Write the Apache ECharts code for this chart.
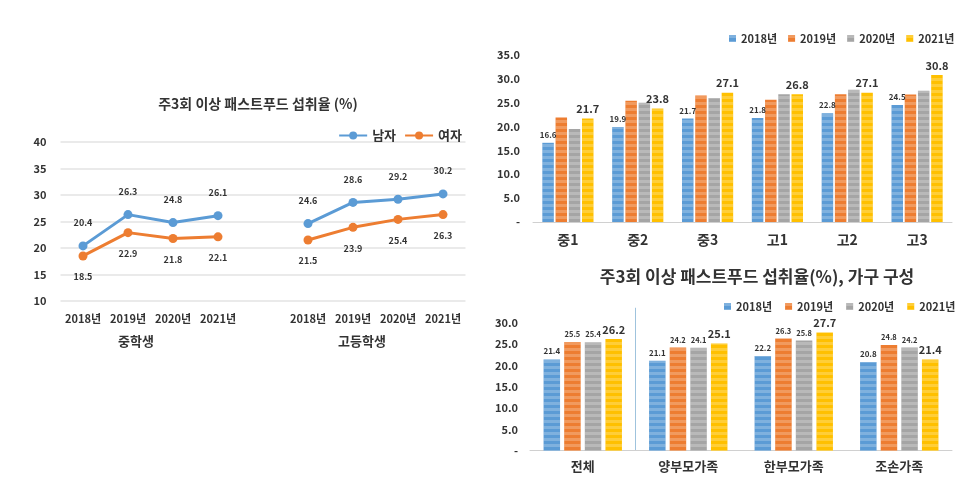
<!DOCTYPE html>
<html><head><meta charset="utf-8">
<script src="https://cdn.jsdelivr.net/npm/echarts@6/dist/echarts.min.js"></script>
<style>html,body{margin:0;padding:0;background:#fff}#c{width:972px;height:485px}</style>
</head><body><div id="c"></div>
<script>
// ---- Chart 1: line chart (middle / high school, by sex)
const lineCats = ['2018년','2019년','2020년','2021년','','2018년','2019년','2020년','2021년'];
const male   = [20.4, 26.3, 24.8, 26.1, null, 24.6, 28.6, 29.2, 30.2];
const female = [18.5, 22.9, 21.8, 22.1, null, 21.5, 23.9, 25.4, 26.3];
const groupLabels = ['중학생', '고등학생'];
// ---- Chart 2: by grade
const gradeCats = ['중1','중2','중3','고1','고2','고3'];
const g2018 = [16.6, 19.9, 21.7, 21.8, 22.8, 24.5];
const g2019 = [21.9, 25.4, 26.5, 25.6, 26.8, 26.7];
const g2020 = [19.5, 25.0, 26.0, 26.8, 27.7, 27.5];
const g2021 = [21.7, 23.8, 27.1, 26.8, 27.1, 30.8];
// ---- Chart 3: by household type
const houseCats = ['전체','양부모가족','한부모가족','조손가족'];
const h2018 = [21.4, 21.1, 22.2, 20.8];
const h2019 = [25.5, 24.2, 26.3, 24.8];
const h2020 = [25.4, 24.1, 25.8, 24.2];
const h2021 = [26.2, 25.1, 27.7, 21.4];
const years = ['2018년','2019년','2020년','2021년'];

const FONT = "'Noto Sans CJK KR', 'Noto Sans', sans-serif";
const TXT = '#333';
const colors = ['#5B9BD5','#ED7D31','#A5A5A5','#FFC000'];
const decal = {symbol:'rect', symbolSize:1, dashArrayX:[[1,0]], dashArrayY:[3,3], color:'rgba(255,255,255,0.22)'};

function barSeries(name, data, color, xi, yi, labelSize, labelBold, showLabel, barWidth, barGap) {
  return {
    type:'bar', name, data, xAxisIndex:xi, yAxisIndex:yi,
    barWidth, barGap,
    itemStyle:{color, decal},
    label:{show:showLabel, position:'top', distance:4, fontFamily:FONT, fontSize:labelSize,
      fontWeight: labelBold ? 'bold' : 'normal', color:TXT, formatter:p=>p.value.toFixed(1)}
  };
}

const chart = echarts.init(document.getElementById('c'), null, {renderer:'canvas'});
const yFmt = v => v === 0 ? '-' : v.toFixed(1);

chart.setOption({
  animation:false,
  textStyle:{fontFamily:FONT},
  title:[
    {text:'주3회 이상 패스트푸드 섭취율 (%)', left:253, top:92, textAlign:'center',
     textStyle:{fontFamily:FONT, fontSize:14, fontWeight:'bold', color:TXT}},
    {text:'주3회 이상 패스트푸드 섭취율(%), 가구 구성', left:752, top:263, textAlign:'center',
     textStyle:{fontFamily:FONT, fontSize:17, fontWeight:'bold', color:TXT}}
  ],
  legend:[
    {data:['남자','여자'], right:505, top:124, itemWidth:28, itemHeight:10, itemGap:8,
     textStyle:{fontFamily:FONT, fontSize:13, fontWeight:'bold', color:TXT}},
    {data:years, left:724, top:28, itemWidth:7, itemHeight:7, itemGap:11, icon:'rect',
     textStyle:{fontFamily:FONT, fontSize:11, fontWeight:'bold', color:TXT}},
    {data:years, left:719, top:296, itemWidth:7, itemHeight:7, itemGap:13, icon:'rect',
     textStyle:{fontFamily:FONT, fontSize:11, fontWeight:'bold', color:TXT}}
  ],
  grid:[
    {left:60.5, right:506.5, top:142, bottom:184},
    {left:533, right:20, top:55, bottom:263},
    {left:530, right:20, top:322.7, bottom:34.3}
  ],
  xAxis:[
    {type:'category', gridIndex:0, data:lineCats, axisLine:{show:false}, axisTick:{show:false},
     axisLabel:{interval:0, fontFamily:FONT, fontSize:11, fontWeight:'bold', color:TXT, margin:12}},
    {type:'category', gridIndex:1, data:gradeCats, axisLine:{lineStyle:{color:'#d0d0d0'}}, axisTick:{show:false},
     axisLabel:{interval:0, fontFamily:FONT, fontSize:14, fontWeight:'bold', color:TXT, margin:11}},
    {type:'category', gridIndex:2, data:houseCats, axisLine:{lineStyle:{color:'#d0d0d0'}}, axisTick:{show:false},
     axisLabel:{interval:0, fontFamily:FONT, fontSize:13, fontWeight:'bold', color:TXT, margin:9}}
  ],
  yAxis:[
    {type:'value', gridIndex:0, min:10, max:40, interval:5, axisLine:{show:false}, axisTick:{show:false},
     splitLine:{lineStyle:{color:'#e3e3e3', width:1.5}},
     axisLabel:{fontFamily:FONT, fontSize:11, fontWeight:'bold', color:TXT, margin:14}},
    {type:'value', gridIndex:1, min:0, max:35, interval:5, axisLine:{show:false}, axisTick:{show:false},
     splitLine:{show:false},
     axisLabel:{fontFamily:FONT, fontSize:11, fontWeight:'bold', color:TXT, margin:13, formatter:yFmt}},
    {type:'value', gridIndex:2, min:0, max:30, interval:5, axisLine:{show:false}, axisTick:{show:false},
     splitLine:{show:false},
     axisLabel:{fontFamily:FONT, fontSize:11, fontWeight:'bold', color:TXT, margin:12, formatter:yFmt}}
  ],
  series:[
    {type:'line', name:'남자', data:male, xAxisIndex:0, yAxisIndex:0, color:colors[0],
     lineStyle:{width:3}, symbol:'circle', symbolSize:9, connectNulls:false,
     label:{show:true, position:'top', distance:14, fontFamily:FONT, fontSize:9, fontWeight:'bold', color:TXT}},
    {type:'line', name:'여자', data:female, xAxisIndex:0, yAxisIndex:0, color:colors[1],
     lineStyle:{width:3}, symbol:'circle', symbolSize:9, connectNulls:false,
     label:{show:true, position:'bottom', distance:12, fontFamily:FONT, fontSize:9, fontWeight:'bold', color:TXT}},

    barSeries('2018년', g2018, colors[0], 1, 1, 8, true, true, 11.5, '15%'),
    barSeries('2019년', g2019, colors[1], 1, 1, 8, false, false, 11.5, '15%'),
    barSeries('2020년', g2020, colors[2], 1, 1, 8, false, false, 11.5, '15%'),
    barSeries('2021년', g2021, colors[3], 1, 1, 11, true, true, 11.5, '15%'),

    barSeries('2018년', h2018, colors[0], 2, 2, 8, true, true, 16.5, '25%'),
    barSeries('2019년', h2019, colors[1], 2, 2, 7.5, true, true, 16.5, '25%'),
    barSeries('2020년', h2020, colors[2], 2, 2, 7.5, true, true, 16.5, '25%'),
    barSeries('2021년', h2021, colors[3], 2, 2, 11, true, true, 16.5, '25%')
  ]
});

// separator between '전체' and the household types, placed from the axis scale
const xa = chart.convertToPixel({xAxisIndex:2}, 0);
const xb = chart.convertToPixel({xAxisIndex:2}, 1);
const sepX = (xa + xb) / 2;
const yTop = chart.convertToPixel({yAxisIndex:2}, 33.5);
const yBot = chart.convertToPixel({yAxisIndex:2}, 0);
chart.setOption({graphic:[
  {type:'text', left:118, top:335, style:{text:groupLabels[0], font:"bold 13px "+FONT, fill:TXT}},
  {type:'text', left:338, top:335, style:{text:groupLabels[1], font:"bold 13px "+FONT, fill:TXT}},
  {type:'line', shape:{x1:sepX, y1:yTop, x2:sepX, y2:yBot}, style:{stroke:'#9fc3dd', lineWidth:1}}
]});
</script></body></html>
